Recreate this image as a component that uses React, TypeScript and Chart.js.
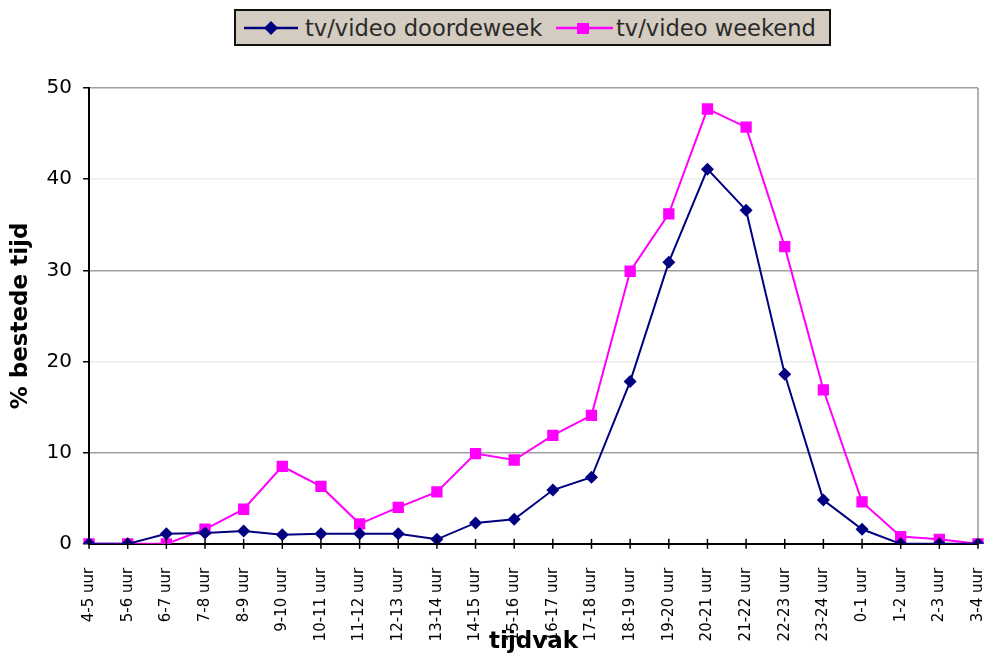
import React, { useEffect, useRef } from "react";
import { Chart, registerables } from "chart.js";

Chart.register(...registerables);

const categories = [
  "4-5 uur", "5-6 uur", "6-7 uur", "7-8 uur", "8-9 uur", "9-10 uur",
  "10-11 uur", "11-12 uur", "12-13 uur", "13-14 uur", "14-15 uur", "15-16 uur",
  "16-17 uur", "17-18 uur", "18-19 uur", "19-20 uur", "20-21 uur", "21-22 uur",
  "22-23 uur", "23-24 uur", "0-1 uur", "1-2 uur", "2-3 uur", "3-4 uur",
];

const doordeweek = [
  0, 0, 1.1, 1.2, 1.4, 1.0, 1.1, 1.1, 1.1, 0.5, 2.3, 2.7,
  5.9, 7.3, 17.8, 30.9, 41.1, 36.6, 18.6, 4.8, 1.6, 0, 0, 0,
];

const weekend = [
  0, 0, 0, 1.6, 3.8, 8.5, 6.3, 2.2, 4.0, 5.7, 9.9, 9.2,
  11.9, 14.1, 29.9, 36.2, 47.7, 45.7, 32.6, 16.9, 4.6, 0.8, 0.5, 0,
];

const seriesNames = ["tv/video doordeweek", "tv/video weekend"];
const yTicks = [0, 10, 20, 30, 40, 50];

const NAVY = "#000080";
const MAGENTA = "#ff00ff";
const FONT = "'DejaVu Sans', Verdana, sans-serif";

const frame = {
  id: "frame",
  afterDraw(chart: any) {
    const { ctx, chartArea, scales } = chart;
    ctx.save();
    ctx.strokeStyle = "#999";
    ctx.lineWidth = 1.5;
    ctx.beginPath();
    ctx.moveTo(chartArea.right, chartArea.top);
    ctx.lineTo(chartArea.right, chartArea.bottom);
    ctx.stroke();
    ctx.strokeStyle = "#000";
    ctx.lineWidth = 1.5;
    const xs = scales.x;
    for (let i = 0; i < categories.length; i++) {
      const x = xs.getPixelForValue(i);
      ctx.beginPath();
      ctx.moveTo(x, chartArea.bottom - 5);
      ctx.lineTo(x, chartArea.bottom + 5);
      ctx.stroke();
    }
    ctx.restore();
  },
};

export default function App() {
  const ref = useRef<HTMLCanvasElement>(null);

  useEffect(() => {
    if (!ref.current) return;
    const chart = new Chart(ref.current, {
      type: "line",
      data: {
        labels: categories,
        datasets: [
          {
            label: seriesNames[0],
            data: doordeweek,
            borderColor: NAVY,
            backgroundColor: NAVY,
            borderWidth: 2,
            pointStyle: "rectRot",
            pointRadius: 6.5,
            pointBorderWidth: 0,
            tension: 0,
          },
          {
            label: seriesNames[1],
            data: weekend,
            borderColor: MAGENTA,
            backgroundColor: MAGENTA,
            borderWidth: 2,
            pointStyle: "rect",
            pointRadius: 8,
            pointBorderWidth: 0,
            tension: 0,
          },
        ],
      },
      options: {
        animation: false,
        responsive: false,
        maintainAspectRatio: false,
        layout: { padding: { top: 88, right: 0, bottom: 0, left: 7 } },
        plugins: {
          legend: { display: false },
          tooltip: { enabled: false },
        },
        scales: {
          x: {
            offset: false,
            afterFit: (s: any) => {
              s.paddingRight = 0;
              s.height = s.height - 44;
            },
            grid: { display: true, drawOnChartArea: false, drawTicks: false },
            border: { color: "#000", width: 2 },
            ticks: {
              autoSkip: false,
              maxRotation: 90,
              minRotation: 90,
              padding: 24,
              color: "#000",
              font: { family: FONT, size: 15 },
            },
            title: {
              display: true,
              text: "tijdvak",
              color: "#000",
              font: { family: FONT, size: 23, weight: "bold" },
              padding: { top: 7, bottom: 0 },
            },
          },
          y: {
            min: 0,
            max: 50,
            afterBuildTicks: (axis: any) => {
              axis.ticks = yTicks.map((v) => ({ value: v }));
            },
            grid: {
              color: (c: any) => {
                const v = c.tick ? c.tick.value : 0;
                if (v === 0) return "rgba(0,0,0,0)";
                if (v === 20 || v === 40) return "#ececec";
                return "#a0a0a0";
              },
              lineWidth: 1.5,
              tickColor: "#000",
              tickLength: 6,
              drawTicks: true,
            },
            border: { color: "#000", width: 2 },
            ticks: {
              color: "#000",
              padding: 11,
              font: { family: FONT, size: 20 },
            },
            title: {
              display: true,
              text: "% bestede tijd",
              color: "#000",
              font: { family: FONT, size: 23, weight: "bold" },
              padding: { top: 0, bottom: 1 },
            },
          },
        },
      },
      plugins: [frame],
    });
    return () => chart.destroy();
  }, []);

  const textStyle: React.CSSProperties = {
    position: "absolute",
    top: 0,
    height: 35,
    lineHeight: "35px",
    fontFamily: FONT,
    fontSize: 22.6,
    color: "#2a2a2a",
    whiteSpace: "nowrap",
  };

  return (
    <div style={{ position: "fixed", left: 0, top: 0, width: 986, height: 656, background: "#fff" }}>
      <canvas ref={ref} width={986} height={656} style={{ position: "absolute", left: 0, top: 0 }} />
      <div
        style={{
          position: "absolute",
          left: 234,
          top: 9,
          width: 597,
          height: 37,
          background: "#d4ccc0",
          border: "2px solid #111",
          boxSizing: "border-box",
          overflow: "hidden",
        }}
      >
        <svg width="597" height="35" style={{ position: "absolute", left: 0, top: 0 }}>
          <line x1="8" y1="17" x2="62" y2="17" stroke={NAVY} strokeWidth="2.5" />
          <polygon points="35,10 42,17 35,24 28,17" fill={NAVY} />
          <line x1="320" y1="17" x2="377" y2="17" stroke={MAGENTA} strokeWidth="2.5" />
          <rect x="341" y="12" width="12" height="11" fill={MAGENTA} />
        </svg>
        <span style={{ ...textStyle, left: 69 }}>{seriesNames[0]}</span>
        <span style={{ ...textStyle, left: 380 }}>{seriesNames[1]}</span>
      </div>
    </div>
  );
}
